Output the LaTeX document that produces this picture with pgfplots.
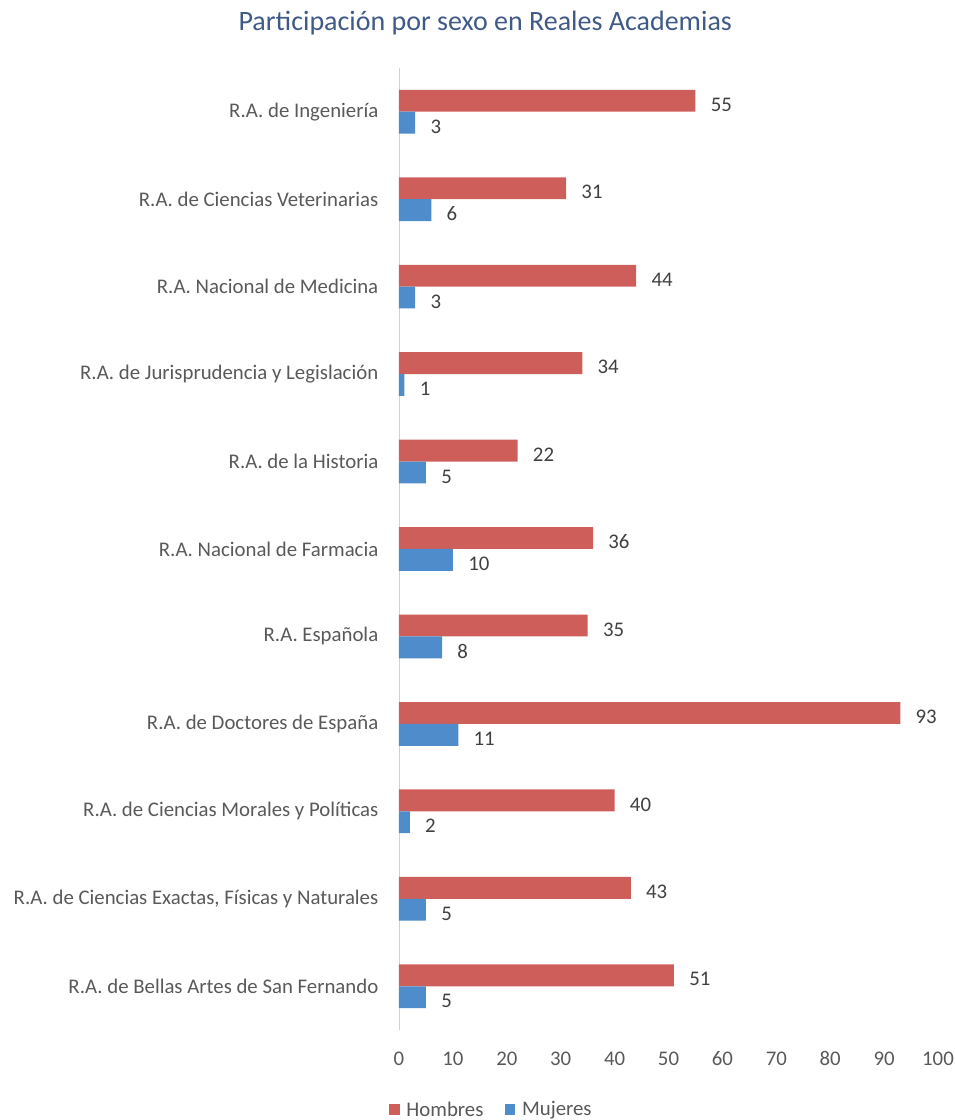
\documentclass[border=0pt]{standalone}
\usepackage{pgfplots}
\pgfplotsset{compat=1.18}
\usepackage{fontspec}
\setmainfont{Carlito}
\definecolor{hombres}{RGB}{206,94,90}
\definecolor{mujeres}{RGB}{78,140,203}
\definecolor{titulo}{RGB}{64,90,136}
\definecolor{texto}{RGB}{89,89,89}
\begin{document}
\begin{tikzpicture}
% 1 px of the reference = 0.75pt
\useasboundingbox (-299.25pt,-67.5pt) rectangle (416.25pt,772.5pt);
\begin{axis}[
  scale only axis,
  width=404.25pt, height=721.5pt,
  xmin=0, xmax=100, ymin=-0.5, ymax=10.5,
  xtick={0,10,...,100},
  ytick={0,...,10},
  yticklabels={R.A. de Bellas Artes de San Fernando,
    {R.A. de Ciencias Exactas, Físicas y Naturales},
    R.A. de Ciencias Morales y Políticas,
    R.A. de Doctores de España,
    R.A. Española,
    R.A. Nacional de Farmacia,
    R.A. de la Historia,
    R.A. de Jurisprudencia y Legislación,
    R.A. Nacional de Medicina,
    R.A. de Ciencias Veterinarias,
    R.A. de Ingeniería},
  axis x line*=bottom, axis y line*=left,
  x axis line style={draw=none},
  y axis line style={-, draw=black!18},
  major tick length=0pt,
  tick label style={font=\fontsize{15.6}{18}\selectfont, text=texto},
  /pgf/number format/assume math mode=true,
  xticklabel style={yshift=-16pt, text height=1.5ex, text depth=0.25ex},
  yticklabel style={xshift=-12pt},
  xbar, bar width=0.25,
  nodes near coords,
  every node near coord/.append style={font=\fontsize{15.6}{18}\selectfont, text=black!75, anchor=west, xshift=8pt, yshift=-5pt, text height=1.5ex, text depth=0.25ex},
  title={Participación por sexo en Reales Academias},
  title style={font=\fontsize{21}{24}\selectfont, text=titulo, at={(axis description cs:0.16,1.038)}, anchor=center},
  legend columns=2,
  legend style={draw=none, at={(axis description cs:0.172,-0.083)}, anchor=center,
    font=\fontsize{15.6}{18}\selectfont, text=texto,
    /tikz/every odd column/.append style={column sep=3pt},
    /tikz/every even column/.append style={column sep=14pt}},
  legend image code/.code={\fill[#1] (0pt,-3.5pt) rectangle (8pt,4.5pt);},
]
\addplot[fill=hombres, draw=none, bar shift=0.125] coordinates {
  (51,0) (43,1) (40,2) (93,3) (35,4) (36,5) (22,6) (34,7) (44,8) (31,9) (55,10)};
\addplot[fill=mujeres, draw=none, bar shift=-0.125] coordinates {
  (5,0) (5,1) (2,2) (11,3) (8,4) (10,5) (5,6) (1,7) (3,8) (6,9) (3,10)};
\legend{Hombres, Mujeres}
\end{axis}
\end{tikzpicture}
\end{document}
